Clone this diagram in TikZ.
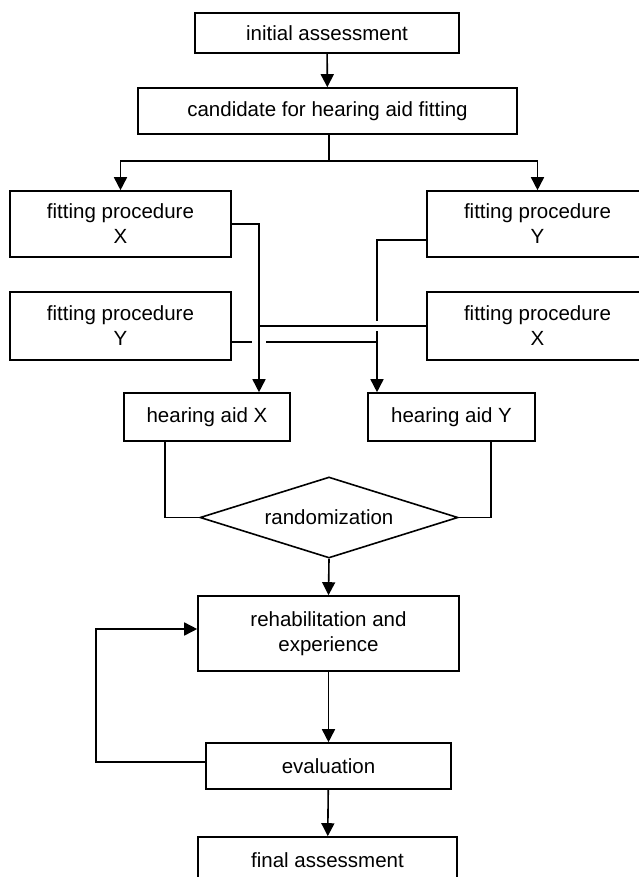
\documentclass[tikz,border=0pt]{standalone}
\usepackage{fontspec}
\setmainfont{Liberation Sans}
\usetikzlibrary{arrows.meta,shapes.geometric,calc}
\tikzset{
  box/.style={draw, line width=1.6pt, inner sep=0pt, align=center,
    font=\fontsize{20.5}{25}\selectfont},
  conn/.style={line width=1.6pt},
  arr/.style={conn, -{Triangle[width=13pt,length=13pt]}},
  decide/.style={draw, diamond, aspect=3.2, line width=1.6pt, inner sep=0pt,
    minimum width=258pt, minimum height=81pt,
    font=\fontsize{20.5}{25}\selectfont}
}
\begin{document}
\begin{tikzpicture}[x=1pt,y=-1pt]
\useasboundingbox (0,0) rectangle (639,877);
\clip (0,0) rectangle (639,877);
\fill[white] (0,0) rectangle (639,877);

% nodes
\node[box, minimum width=264pt, minimum height=40pt] (ia) at (327,33) {initial assessment};
\node[box, minimum width=379pt, minimum height=46pt] (cand) at (327.5,111) {candidate for hearing aid fitting};
\node[box, minimum width=221pt, minimum height=66pt] (fx1) at (120.5,224) {fitting procedure\\X};
\node[box, minimum width=221pt, minimum height=66pt] (fy1) at (537.5,224) {fitting procedure\\Y};
\node[box, minimum width=221pt, minimum height=68pt] (fy2) at (120.5,326) {fitting procedure\\Y};
\node[box, minimum width=221pt, minimum height=68pt] (fx2) at (537.5,326) {fitting procedure\\X};
\node[box, minimum width=166pt, minimum height=48pt] (hx) at (207,417) {hearing aid X};
\node[box, minimum width=167pt, minimum height=48pt] (hy) at (451.5,417) {hearing aid Y};
\node[decide] (rand) at (329,517.5) {randomization};
\node[box, minimum width=261pt, minimum height=75pt] (rehab) at (328.5,633.5) {rehabilitation and\\experience};
\node[box, minimum width=245pt, minimum height=46pt] (eval) at (328.5,766) {evaluation};
\node[box, minimum width=259pt, minimum height=46pt] (final) at (327.5,860) {final assessment};

% helper coordinates
\coordinate (split) at (329,161);
\coordinate (cx) at (259,0);
\coordinate (cy) at (377,0);
\coordinate (lx) at (165,0);
\coordinate (rx) at (491,0);
\coordinate (fb) at (96,0);
\coordinate (fyline) at ([yshift=-16pt]fy1.west);
\coordinate (lowy) at ([yshift=-16pt]fy2.east);
\coordinate (upy) at (fx2.west);
\coordinate (evout) at ([yshift=4pt]eval.west);
\coordinate (rehin) at ([yshift=4.5pt]rehab.west);

% top part
\draw[arr] (ia) -- (cand);
\draw[conn] (cand.south -| split) -- (split);
\draw[arr] (split) -| (fx1.north);
\draw[arr] (split) -| (fy1.north);

% crossing connectors
\draw[arr] (fx1.east) -| (cx |- hx.north);
\draw[conn] (fyline) -| ($(cy |- upy)+(0,-5)$);
\draw[arr] ($(cy |- upy)+(0,5)$) -- (cy |- hy.north);
\draw[conn] (upy) -- (cx |- upy);
\draw[conn] (lowy) -- ($(cx |- lowy)+(-7,0)$);
\draw[conn] ($(cx |- lowy)+(7,0)$) -- (cy |- lowy);

% to randomization
\draw[conn] (lx |- hx.south) |- (rand.west);
\draw[conn] (rx |- hy.south) |- (rand.east);
\draw[arr] (rand.south) -- (rehab.north);
\draw[arr] (rehab) -- (eval);
\draw[arr] (eval) -- (final);
\draw[arr] (evout) -- (fb |- evout) -- (fb |- rehin) -- (rehin);
\end{tikzpicture}
\end{document}
